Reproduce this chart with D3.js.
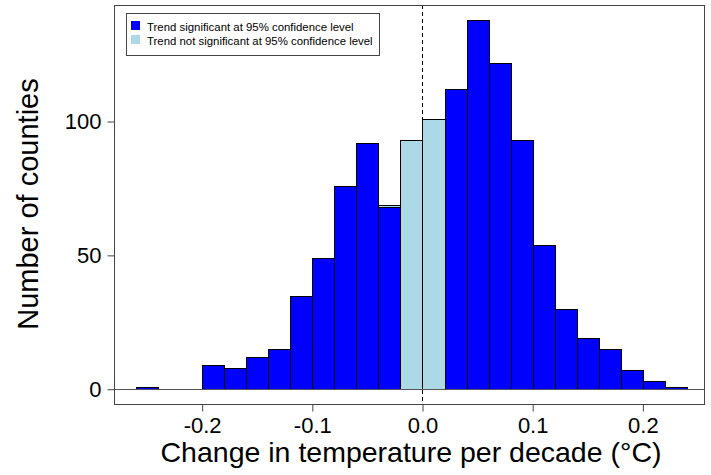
<!DOCTYPE html>
<html>
<head>
<meta charset="utf-8">
<script src="https://cdn.jsdelivr.net/npm/d3@7"></script>
<style>
    body { margin: 0; background: #fff; }
    text { font-family: "Liberation Sans", Arial, sans-serif; fill: #000; }
</style>
</head>
<body>
<svg id="chart" width="711" height="475"></svg>
<script>

// HISTOGRAM BIN LEFT EDGES (width 0.02)
var bin_start = [-0.26, -0.24, -0.22, -0.20, -0.18, -0.16, -0.14, -0.12, -0.10, -0.08, -0.06, -0.04, -0.02,
                 0.00, 0.02, 0.04, 0.06, 0.08, 0.10, 0.12, 0.14, 0.16, 0.18, 0.20, 0.22];
var bin_width = 0.02;
// ALL COUNTIES IN EACH BIN
var total_count = [1, 0, 0, 9, 8, 12, 15, 35, 49, 76, 92, 69, 93,
                   101, 112, 138, 122, 93, 54, 30, 19, 15, 7, 3, 1];
// COUNTIES WITH A SIGNIFICANT TREND
var signif_count = [1, 0, 0, 9, 8, 12, 15, 35, 49, 76, 92, 68, 0,
                    0, 112, 138, 122, 93, 54, 30, 19, 15, 7, 3, 1];

var x_ticks = [-0.2, -0.1, 0.0, 0.1, 0.2];
var y_ticks = [0, 50, 100];
var legend_labels = ["Trend significant at 95% confidence level",
                     "Trend not significant at 95% confidence level"];
var legend_colors = ["#0000ff", "#add8e6"];


draw_chart();


function draw_chart(){

    var svg = d3.select('#chart');
    var left = 114, right = 704, top = 5, bottom = 404;

    var x = d3.scaleLinear().domain([-0.28, 0.2555]).range([left, right]);
    var y = d3.scaleLinear().domain([-5.52, 143.52]).range([bottom, top]);

    // BARS - TOTAL IN LIGHT BLUE, SIGNIFICANT ON TOP IN BLUE
    draw_bars(svg, x, y, total_count, legend_colors[1]);
    draw_bars(svg, x, y, signif_count, legend_colors[0]);

    // HORIZONTAL LINE AT ZERO
    svg.append("line")
        .attr("x1", left)
        .attr("x2", right)
        .attr("y1", Math.round(y(0)) + 0.5)
        .attr("y2", Math.round(y(0)) + 0.5)
        .attr("stroke", "#555")
        .attr("stroke-width", 1);

    // DASHED LINE AT ZERO CHANGE
    svg.append("line")
        .attr("x1", Math.round(x(0)) + 0.5)
        .attr("x2", Math.round(x(0)) + 0.5)
        .attr("y1", top)
        .attr("y2", bottom)
        .attr("stroke", "#000")
        .attr("stroke-width", 1)
        .attr("stroke-dasharray", "4,3");

    // FRAME
    svg.append("rect")
        .attr("x", left + 0.5)
        .attr("y", top + 0.5)
        .attr("width", right - left)
        .attr("height", bottom - top)
        .attr("fill", "none")
        .attr("stroke", "#444")
        .attr("stroke-width", 1);

    // AXES (hyphen instead of unicode minus, like the original)
    var x_axis = d3.axisBottom(x)
        .tickValues(x_ticks)
        .tickSize(7)
        .tickPadding(6)
        .tickFormat(function(d){ return d.toFixed(1); });
    var gx = svg.append("g")
        .attr("transform", "translate(0," + (bottom + 0.5) + ")")
        .call(x_axis);
    gx.select(".domain").remove();
    gx.selectAll("line").attr("stroke", "#444");
    gx.selectAll("text").style("font-size", "22px");

    var y_axis = d3.axisLeft(y)
        .tickValues(y_ticks)
        .tickSize(7)
        .tickPadding(6);
    var gy = svg.append("g")
        .attr("transform", "translate(" + (left + 0.5) + ",0)")
        .call(y_axis);
    gy.select(".domain").remove();
    gy.selectAll("line").attr("stroke", "#444");
    gy.selectAll("text").style("font-size", "22px");

    // AXIS TITLES
    svg.append("text")
        .attr("x", 411)
        .attr("y", 462)
        .attr("text-anchor", "middle")
        .style("font-size", "28.5px")
        .text("Change in temperature per decade (\u00B0C)");

    svg.append("text")
        .attr("transform", "translate(38,204) rotate(-90)")
        .attr("text-anchor", "middle")
        .style("font-size", "29px")
        .text("Number of counties");

    draw_legend(svg);
}


function draw_bars(svg, x, y, counts, color){

    var g = svg.append("g");
    counts.forEach(function(d, i){
        if(d <= 0) return;
        var x0 = Math.round(x(bin_start[i]));
        var x1 = Math.round(x(bin_start[i] + bin_width));
        g.append("rect")
            .attr("x", x0 + 0.5)
            .attr("y", Math.round(y(d)) + 0.5)
            .attr("width", x1 - x0)
            .attr("height", Math.round(y(0)) - Math.round(y(d)))
            .attr("fill", color)
            .attr("stroke", "#000")
            .attr("stroke-width", 1);
    });
}


function draw_legend(svg){

    var lx = 126, ly = 13;

    svg.append("rect")
        .attr("x", lx + 0.5)
        .attr("y", ly + 0.5)
        .attr("width", 253)
        .attr("height", 42)
        .attr("fill", "#fff")
        .attr("stroke", "#444")
        .attr("stroke-width", 1);

    for(var i = 0; i < legend_labels.length; i++){

        svg.append("rect")
            .attr("x", lx + 5)
            .attr("y", ly + 8 + i * 14)
            .attr("width", 9)
            .attr("height", 9)
            .attr("fill", legend_colors[i]);

        svg.append("text")
            .attr("x", lx + 21)
            .attr("y", ly + 18 + i * 14)
            .style("font-size", "11.4px")
            .text(legend_labels[i]);
    }
}

</script>
</body>
</html>
